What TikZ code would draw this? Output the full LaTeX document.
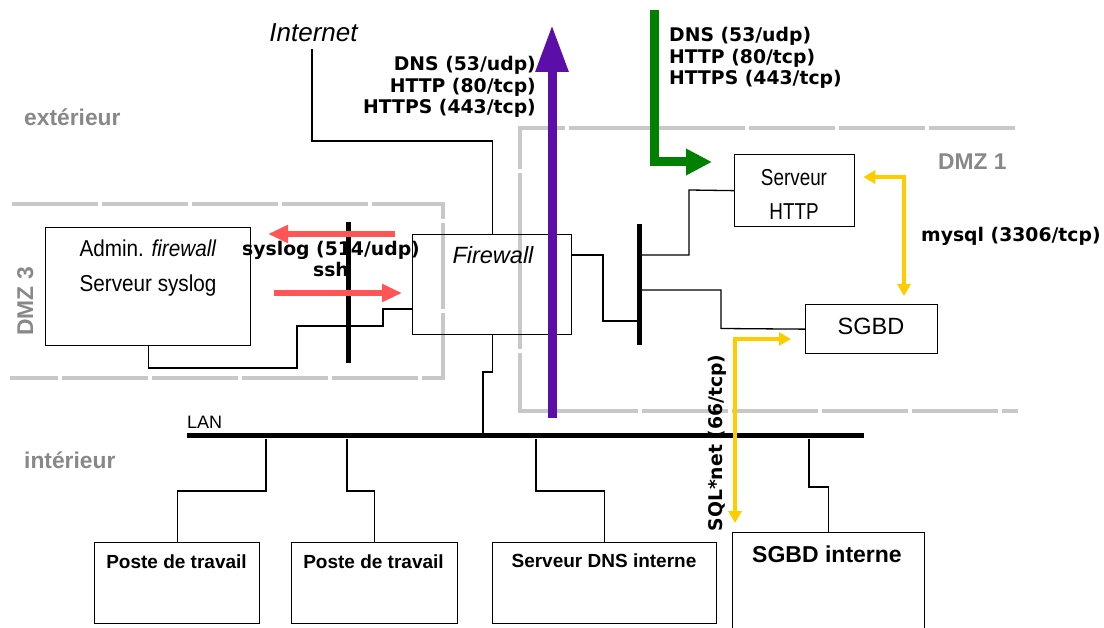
\documentclass[tikz,border=0pt]{standalone}
\usepackage{fontspec}
\setmainfont{Liberation Sans}
\newfontfamily\dvb{DejaVu Sans}
\newfontfamily\narrowA[FakeStretch=0.9]{Liberation Sans}
\newfontfamily\narrowB[FakeStretch=0.82]{Liberation Sans}
\usetikzlibrary{arrows.meta}
\definecolor{zonegray}{HTML}{C8C8C8}
\definecolor{labgray}{HTML}{888888}
\definecolor{redarr}{HTML}{FF5555}
\definecolor{purplearr}{HTML}{5B0FA8}
\definecolor{greenarr}{HTML}{008000}
\definecolor{yellowarr}{HTML}{FFCC00}
\tikzset{
  box/.style={draw, line width=1.3pt, inner sep=0pt, anchor=north west},
  bus/.style={fill=black, inner sep=0pt},
  conn/.style={line width=1.3pt},
  txt/.style={inner sep=0pt, anchor=base},
  proto/.style={inner sep=0pt, font=\dvb\bfseries\fontsize{18.8pt}{21.5pt}\selectfont},
  zonelab/.style={inner sep=0pt, anchor=base west, text=labgray, font=\bfseries\fontsize{22.8pt}{26pt}\selectfont},
  zone/.style={draw=zonegray, line width=4pt, dash pattern=on 86pt off 4pt},
  redarrow/.style={draw=redarr, line width=6pt, -{Triangle[length=20pt,width=17pt]}},
  yarrow/.style={draw=yellowarr, line width=4pt, line join=miter},
}
\begin{document}
\begin{tikzpicture}[x=1pt,y=-1pt]
\useasboundingbox (0,0) rectangle (1104,628);
% zones
\draw[zone] (12,204) -- (443,204) -- (443,378) -- (10,378);
\draw[zone] (1015,128) -- (520,128) -- (520,411) -- (1018,411);
\node[zonelab] (ext) at (24,126) {extérieur};
\node[zonelab] (int) at (24,468) {intérieur};
\node[zonelab] (dmz1) at (938,170) {DMZ 1};
\node[inner sep=0pt, anchor=base, rotate=90, text=labgray, font=\bfseries\fontsize{22.8pt}{26pt}\selectfont] (dmz3) at (33,301.5) {DMZ 3};

% boxes
\node[box, minimum width=205pt, minimum height=118pt] (admin) at (45,227) {};
\node[box, minimum width=159pt, minimum height=100pt] (fw) at (412,234) {};
\node[box, minimum width=120pt, minimum height=72pt] (http) at (734,154) {};
\node[box, minimum width=132pt, minimum height=49pt] (sgbd) at (805,304) {};
\node[box, minimum width=165pt, minimum height=81pt] (p1) at (94,542) {};
\node[box, minimum width=166pt, minimum height=81pt] (p2) at (291,542) {};
\node[box, minimum width=224pt, minimum height=81pt] (dns) at (492,542) {};
\node[box, minimum width=192pt, minimum height=110pt] (sgbdi) at (732,532) {};

% box texts
\node[txt, font=\narrowA\fontsize{23pt}{27pt}\selectfont] (admint1) at (148,257) {Admin. \textit{firewall}};
\node[txt, font=\narrowA\fontsize{23pt}{27pt}\selectfont] (admint2) at (148,292) {Serveur syslog};
\node[txt, font=\itshape\fontsize{23.5pt}{27pt}\selectfont] (fwt) at (493,264) {Firewall};
\node[txt, font=\narrowB\fontsize{23pt}{27pt}\selectfont] (httpt1) at (794,186) {Serveur};
\node[txt, font=\narrowB\fontsize{23pt}{27pt}\selectfont] (httpt2) at (794,220) {HTTP};
\node[txt, font=\fontsize{23.5pt}{27pt}\selectfont] (sgbdt) at (871,335) {SGBD};
\node[txt, font=\bfseries\fontsize{19pt}{22pt}\selectfont] (p1t) at (176.5,568) {Poste de travail};
\node[txt, font=\bfseries\fontsize{19pt}{22pt}\selectfont] (p2t) at (373.5,568) {Poste de travail};
\node[txt, font=\bfseries\fontsize{19pt}{22pt}\selectfont] (dnst) at (604,567) {Serveur DNS interne};
\node[txt, font=\bfseries\fontsize{23pt}{27pt}\selectfont] (sgbdit) at (827,562) {SGBD interne};
\node[txt, font=\itshape\fontsize{26pt}{30pt}\selectfont] (internet) at (313.5,42) {Internet};
\node[inner sep=0pt, anchor=base west, font=\fontsize{18pt}{21pt}\selectfont] (lant) at (187,429) {LAN};

% buses
\node[bus, minimum width=677pt, minimum height=5pt] (lan) at (525.5,436) {};

% connectors
\draw[conn] (admin.south) -- (admin.south |- 0,368) -- (297,368) -- (297,326) -- (383,326) -- (383,309) -- (fw.west |- 0,309);
\draw[conn] ([yshift=-7pt]internet.south -| 312,0) |- (fw.north |- 0,141) -- (fw.north);
\draw[conn] (fw.south) -- (fw.south |- 0,372) -- (483,372) -- (lan.north -| 483,0);
\draw[conn] (fw.east |- 0,255) -- (603,255) -- (603,321) -- (640,321);
\draw[conn] (640,255) -- (689,255) -- (689,190) -- (http.west);
\draw[conn] (640,290) -- (721,290) -- (721,328.5) -- (sgbd.west);
\draw[conn] (lan.south -| 266,0) -- (266,491) -- (p1.north |- 0,491) -- (p1.north);
\draw[conn] (lan.south -| 347,0) -- (347,491) -- (p2.north |- 0,491) -- (p2.north);
\draw[conn] (lan.south -| 536,0) -- (536,491) -- (dns.north |- 0,491) -- (dns.north);
\draw[conn] (lan.south -| 809,0) -- (809,487) -- (sgbdi.north |- 0,487) -- (sgbdi.north);

% protocol labels
\node[proto, anchor=center, align=center] (syslogt) at (331,259) {syslog (514/udp)\\ssh};
\node[proto, anchor=west, align=left] (greent) at (669,58) {DNS (53/udp)\\HTTP (80/tcp)\\HTTPS (443/tcp)};
\node[proto, anchor=east, align=right] (purplet) at (536,87) {DNS (53/udp)\\HTTP (80/tcp)\\HTTPS (443/tcp)};
\node[proto, anchor=base west] (mysqlt) at (921,242) {mysql (3306/tcp)};
\node[proto, anchor=base, rotate=90] (sqlt) at (722,443) {SQL*net (66/tcp)};

% DMZ buses (drawn over labels)
\node[bus, minimum width=5pt, minimum height=121pt] (bus1) at (639,284.5) {};
\node[bus, minimum width=5pt, minimum height=141pt] (bus3) at (348,292.5) {};

% red arrows
\coordinate (r1s) at (395,234); \coordinate (r1e) at (268,234);
\coordinate (r2s) at (274,293); \coordinate (r2e) at (402,293);
\draw[redarrow] (r1s) -- (r1e);
\draw[redarrow] (r2s) -- (r2e);

% purple arrow
\coordinate (ps) at (552,418); \coordinate (pe) at (552,25);
\draw[draw=purplearr, line width=9pt, -{Triangle[length=47pt,width=31pt]}] (ps) -- (pe);

% green arrow
\coordinate (gs) at (654,10); \coordinate (ge) at (712,162);
\draw[draw=greenarr, line width=9pt, line join=miter, -{Triangle[length=26pt,width=25pt]}] (gs) |- (ge);

% yellow arrows
\draw[yarrow, {Triangle[length=12pt,width=13pt]}-{Triangle[length=12pt,width=13pt]}] ([xshift=8pt]http.east |- 0,177) -| ([yshift=8pt]sgbd.north -| 904,0);
\draw[yarrow, {Triangle[length=12pt,width=13pt]}-{Triangle[length=12pt,width=13pt]}] ([xshift=-14pt]sgbd.west |- 0,339) -| ([yshift=9pt]sgbdi.north -| 735,0);
\end{tikzpicture}
\end{document}
